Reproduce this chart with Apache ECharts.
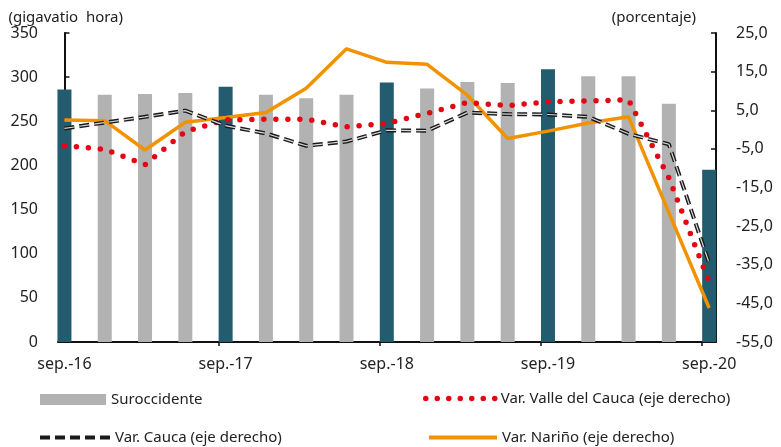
<!DOCTYPE html>
<html>
<head>
<meta charset="utf-8">
<script src="https://cdn.jsdelivr.net/npm/echarts@6/dist/echarts.min.js"></script>
<style>
  html, body { margin: 0; padding: 0; background: #fff; }
  #chart { width: 781px; height: 447px; }
</style>
</head>
<body>
<div id="chart"></div>
<script>
// trimestres (sep.-16 .. sep.-20)
var quarters = ['sep.-16', 'dic.-16', 'mar.-17', 'jun.-17', 'sep.-17', 'dic.-17', 'mar.-18', 'jun.-18',
  'sep.-18', 'dic.-18', 'mar.-19', 'jun.-19', 'sep.-19', 'dic.-19', 'mar.-20', 'jun.-20', 'sep.-20']
// demanda Suroccidente (gigavatio hora)
var suroccidente = [286, 280, 281, 282, 289, 280, 276, 280, 294, 287, 294.5, 293.5, 309, 301, 301, 270, 195]
// variaciones (porcentaje, eje derecho)
var varValle = [-4.2, -5.1, -9.1, -0.5, 2.5, 2.7, 2.7, 0.7, 1.6, 4.2, 7.0, 6.2, 7.2, 7.4, 7.7, -12.5, -39.5]
var varCauca = [0.3, 1.8, 3.3, 4.9, 1.0, -1.0, -4.2, -3.1, -0.2, -0.3, 4.4, 4.0, 3.9, 3.3, -1.1, -3.8, -34.6]
var varNarino = [2.5, 2.3, -5.3, 1.9, 3.1, 4.4, 10.7, 20.9, 17.4, 16.9, 8.9, -2.3, -0.4, 1.7, 3.3, -21.5, -46.2]
// trimestres rotulados en el eje x
var tickIdx = [0, 4, 8, 12, 16]

var FONT = 'Noto Sans'
var TXT = '#222'

function pairs(arr) {
  return arr.map(function(v, i) { return [i, v] })
}

// leyenda: una por serie, sin simbolo
function leg(name, left, top, w, line) {
  var l = {
    data: [name], left: left, top: top, itemWidth: w, itemHeight: 11,
    textStyle: { fontSize: 15, color: TXT, fontFamily: FONT }
  }
  if (line) {
    l.itemStyle = { opacity: 0 }
    l.lineStyle = line
  } else {
    l.icon = 'rect'
  }
  return l
}

var chart = echarts.init(document.getElementById('chart'))
var option = {
  animation: false,
  textStyle: { fontFamily: FONT, color: TXT },
  grid: { left: 58, right: 65, top: 33, bottom: 105 },
  legend: [
    leg('Suroccidente', 35, 387, 66),
    leg('Var. Valle del Cauca (eje derecho)', 418, 386, 70,
      { color: '#E30613', width: 5.5, type: [0, 11.5], cap: 'round' }),
    leg('Var. Cauca (eje derecho)', 33, 425, 70,
      { color: '#1a1a1a', width: 4, type: [10, 5] }),
    leg('Var. Nariño (eje derecho)', 422, 425, 68,
      { color: '#F39200', width: 4 })
  ],
  xAxis: {
    type: 'value',
    min: -0.16,
    max: 16.17,
    splitLine: { show: false },
    axisLine: { lineStyle: { color: '#111', width: 2 } },
    axisTick: {
      show: true, length: 4, lineStyle: { color: '#111', width: 1.5 },
      customValues: tickIdx.slice(1).map(function(i) { return i - 0.18 })
    },
    axisLabel: {
      customValues: tickIdx,
      margin: 14,
      fontSize: 16,
      color: TXT,
      formatter: function(v) { return quarters[Math.round(v)] }
    }
  },
  yAxis: [
    {
      type: 'value', min: 0, max: 350, interval: 50,
      name: '(gigavatio  hora)',
      nameLocation: 'end', nameGap: 8,
      nameTextStyle: { align: 'left', fontSize: 15, color: TXT, padding: [0, 0, 0, -56] },
      splitLine: { show: false },
      axisLine: { show: true, lineStyle: { color: '#111', width: 2 } },
      axisTick: { show: true, inside: true, length: 5, lineStyle: { color: '#111', width: 1.5 } },
      axisLabel: { fontSize: 16, color: TXT, margin: 20 }
    },
    {
      type: 'value', min: -55, max: 25, interval: 10,
      name: '(porcentaje)',
      nameLocation: 'end', nameGap: 8,
      nameTextStyle: { align: 'right', fontSize: 15, color: TXT, padding: [0, 20, 0, 0] },
      splitLine: { show: false },
      axisLine: { show: true, lineStyle: { color: '#111', width: 2 } },
      axisTick: { show: true, inside: true, length: 5, lineStyle: { color: '#111', width: 1.5 } },
      axisLabel: {
        fontSize: 16, color: TXT, margin: 20,
        formatter: function(v) { return v.toFixed(1).replace('.', ',') }
      }
    }
  ],
  series: [
    {
      name: 'Suroccidente',
      type: 'bar',
      yAxisIndex: 0,
      barWidth: 14,
      color: '#B2B2B2',
      itemStyle: {
        color: function(p) { return tickIdx.indexOf(p.dataIndex) >= 0 ? '#225C6E' : '#B2B2B2' }
      },
      data: pairs(suroccidente),
      z: 1
    },
    {
      name: 'Var. Valle del Cauca (eje derecho)',
      type: 'line',
      yAxisIndex: 1,
      symbol: 'none',
      color: '#E30613',
      lineStyle: { color: '#E30613', width: 5.5, type: [0, 12], cap: 'round' },
      data: pairs(varValle),
      z: 3
    },
    {
      name: 'Var. Cauca (eje derecho)',
      type: 'line',
      yAxisIndex: 1,
      symbol: 'none',
      color: '#1a1a1a',
      lineStyle: { color: '#1a1a1a', width: 4, type: [10, 5] },
      data: pairs(varCauca),
      z: 4
    },
    {
      // relleno claro de los guiones
      name: 'cauca-inner',
      type: 'line',
      yAxisIndex: 1,
      symbol: 'none',
      silent: true,
      lineStyle: { color: '#d8d8d8', width: 1.2, type: [10, 5] },
      data: pairs(varCauca),
      z: 5
    },
    {
      name: 'Var. Nariño (eje derecho)',
      type: 'line',
      yAxisIndex: 1,
      symbol: 'none',
      color: '#F39200',
      lineStyle: { color: '#F39200', width: 3.5 },
      data: pairs(varNarino),
      z: 2
    }
  ]
}
chart.setOption(option)
</script>
</body>
</html>
